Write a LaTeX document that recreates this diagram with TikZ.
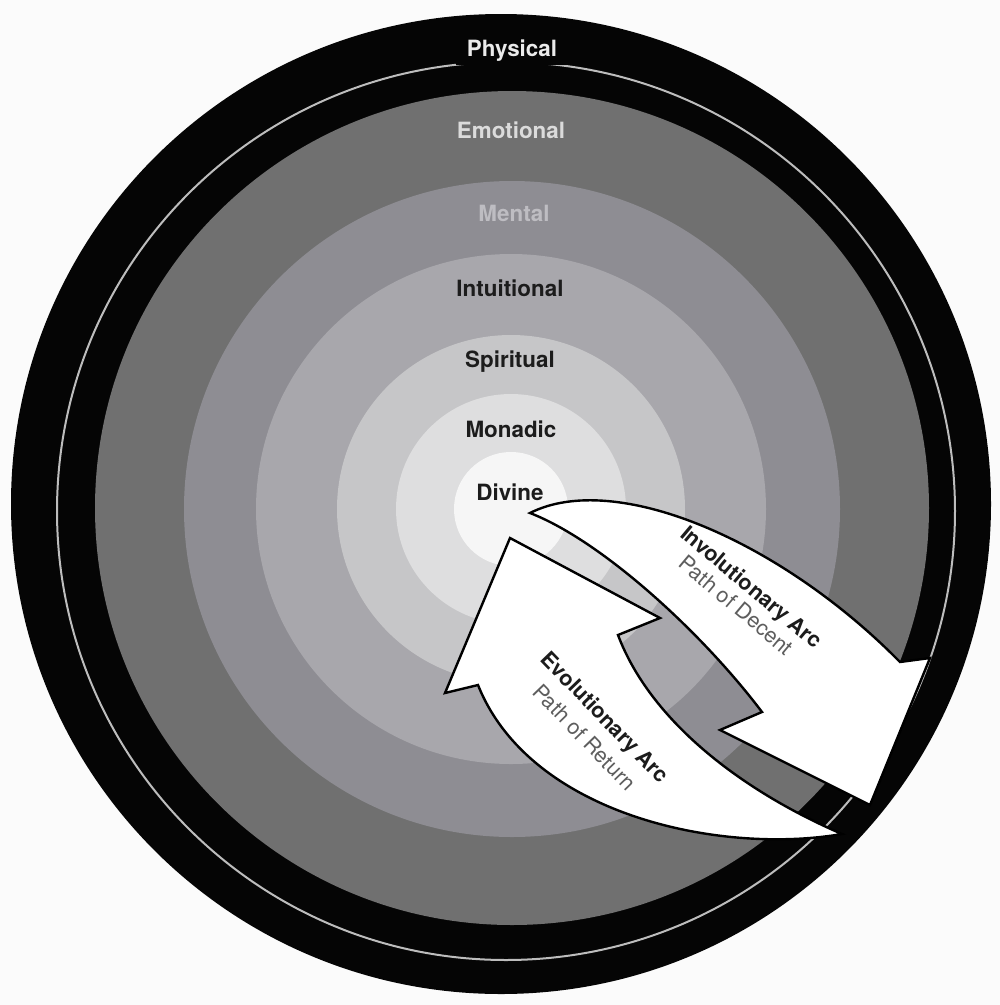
\documentclass[tikz,border=0pt]{standalone}
\usepackage{fontspec}
\setmainfont{TeX Gyre Heros}
\definecolor{bgc}{HTML}{FBFBFB}
\definecolor{physc}{HTML}{050505}
\definecolor{linec}{HTML}{BDBDBD}
\definecolor{emoc}{HTML}{707070}
\definecolor{menc}{HTML}{8E8D93}
\definecolor{intc}{HTML}{A8A7AC}
\definecolor{spic}{HTML}{C6C6C8}
\definecolor{monc}{HTML}{DEDEDF}
\definecolor{divc}{HTML}{F6F6F6}
\definecolor{darktxt}{HTML}{1C1C1C}
\definecolor{greytxt}{HTML}{5E5E5E}
\definecolor{mentxt}{HTML}{BEBDC2}
\begin{document}
\begin{tikzpicture}[x=1pt,y=-1pt,
  lbl/.style={font=\bfseries\fontsize{22.4}{26}\selectfont, inner sep=0pt, text=darktxt},
  arclbl/.style={font=\fontsize{21.5}{25}\selectfont, inner sep=0pt, align=center, text=darktxt},
  arrowshape/.style={fill=white, draw=black, line width=2.4pt, line join=miter, miter limit=20}]
\useasboundingbox (0,0) rectangle (1000,1005);
\fill[bgc] (0,0) rectangle (1000,1005);
% rings
\fill[physc] (501,504) circle[radius=490pt];
\draw[linec, line width=2pt] (506,511) circle[radius=449pt];
\fill[emoc] (512,508) circle[radius=417pt];
\fill[menc] (512,509) circle[radius=328pt];
\fill[intc] (511,509) circle[radius=255pt];
\fill[spic] (511,509) circle[radius=174pt];
\fill[monc] (511,509) circle[radius=115pt];
\fill[divc] (511,509) circle[radius=57pt];
% plane labels
\node[lbl, text=white!92!black, fill=physc, inner xsep=11pt, inner ysep=3pt] (physical) at (512,51) {Physical};
\node[lbl, text=white!86!black] (emotional) at (511,130) {Emotional};
\node[lbl, text=mentxt] (mental) at (514,213) {Mental};
\node[lbl] (intuitional) at (510,288) {Intuitional};
\node[lbl] (spiritual) at (510,362) {Spiritual};
\node[lbl] (monadic) at (511,429) {Monadic};
\node[lbl] (divine) at (510,492) {Divine};
% involutionary arrow
\coordinate (iTail) at (530,513);
\coordinate (iNotchO) at (900,662);
\coordinate (iBarbO) at (930,658);
\coordinate (iTip) at (870,805);
\coordinate (iBarbI) at (720,730);
\coordinate (iNotchI) at (762,712);
\draw[arrowshape] (iTail) .. controls (615,470) and (780,540) .. (iNotchO)
  -- (iBarbO) -- (iTip) -- (iBarbI) -- (iNotchI)
  .. controls (700,630) and (600,540) .. cycle;
% evolutionary arrow
\coordinate (eTip) at (510,538);
\coordinate (eBarbR) at (660,618);
\coordinate (eNotchR) at (618,635);
\coordinate (eTail) at (842,834);
\coordinate (eNotchL) at (478,685);
\coordinate (eBarbL) at (445,693);
\draw[arrowshape] (eTip) -- (eBarbR) -- (eNotchR)
  .. controls (650,720) and (740,790) .. (eTail)
  .. controls (720,855) and (530,815) .. (eNotchL)
  -- (eBarbL) -- cycle;
% arrow labels
\node[arclbl, rotate=-40] (invlbl) at (744,596)
  {\textbf{Involutionary Arc}\\[-1pt]{\color{greytxt}Path of Decent}};
\node[arclbl, rotate=-46] (evolbl) at (595,727)
  {\textbf{Evolutionary Arc}\\[4pt]{\color{greytxt}Path of Return}};
\end{tikzpicture}
\end{document}
